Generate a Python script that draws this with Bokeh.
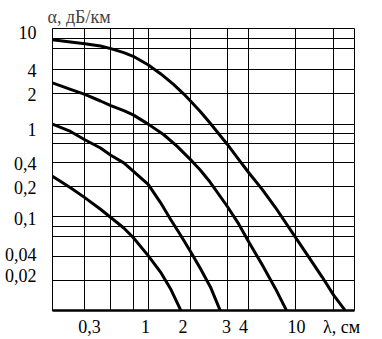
from bokeh.plotting import figure
from bokeh.models import Range1d, FixedTicker, BasicTickFormatter
from bokeh.embed import file_html
from bokeh.resources import INLINE

# ---- data (λ in cm, α in dB/km) ----
c1_x = [0.226, 0.2995, 0.3741, 0.4775, 0.5606, 0.6862, 0.7943, 1.0, 1.215, 1.494, 1.746, 1.937, 2.239,
        2.576, 3.429, 4.108, 4.799, 5.910, 7.268, 9.922, 12.21, 15.03, 18.01, 21.04, 21.6]
c1_y = [9.81, 9.255, 8.90, 8.40, 7.885, 7.157, 6.543, 5.325, 4.281, 3.280, 2.604, 2.198, 1.725,
        1.331, 0.7660, 0.5261, 0.3812, 0.2542, 0.1632, 0.0788, 0.04857, 0.0299, 0.01914, 0.01387, 0.0128]

c2_x = [0.226, 0.2995, 0.3741, 0.4775, 0.5606, 0.6862, 0.7943, 1.003, 1.279, 1.575, 1.937, 2.094, 2.239,
        2.576, 3.429, 4.108, 4.799, 5.910, 7.268, 8.720]
c2_y = [3.425, 2.920, 2.586, 2.198, 1.962, 1.738, 1.566, 1.250, 0.9643, 0.7264, 0.5261, 0.4603, 0.4128,
        0.3162, 0.1684, 0.1088, 0.07037, 0.04030, 0.02252, 0.0128]

c3_x = [0.226, 0.2995, 0.3741, 0.4775, 0.5606, 0.6862, 0.7943, 1.003, 1.215, 1.419, 1.658, 1.937, 2.264,
        2.645, 3.10]
c3_y = [1.250, 1.045, 0.8543, 0.6985, 0.5840, 0.4858, 0.3962, 0.2871, 0.1842, 0.1229, 0.0834, 0.05589, 0.03657,
        0.02335, 0.0128]

c4_x = [0.226, 0.2995, 0.3741, 0.4775, 0.5606, 0.6862, 0.7943, 1.003, 1.215, 1.419, 1.684]
c4_y = [0.3509, 0.2649, 0.2079, 0.1565, 0.1281, 0.0990, 0.0785, 0.05047, 0.03376, 0.02252, 0.0128]

x_grid = [0.3741, 0.5606, 0.7943, 1.0, 1.937, 3.429, 4.799, 10.0, 17.84]
y_grid = [10.0, 7.885, 4.775, 2.650, 1.250, 0.988, 0.7885, 0.4929, 0.2754, 0.1299, 0.1029, 0.0808, 0.04975, 0.02754]

x_tick_vals = [0.4024, 0.9619, 1.724, 3.392, 4.418, 10.08, 20.30]
x_tick_text = ["0,3", "1", "2", "3", "4", "10", "λ, см"]
y_tick_vals = [11.70, 4.606, 2.604, 1.089, 0.4775, 0.2669, 0.1244, 0.05133, 0.03087]
y_tick_text = ["10", "4", "2", "1", "0,4", "0,2", "0,1", "0,04", "0,02"]

x_lim = [0.2263, 24.85]
y_lim = [0.01322, 12.90]

FONT = "Times New Roman"

p = figure(width=382, height=339, x_axis_type="log", y_axis_type="log",
           x_range=Range1d(*x_lim), y_range=Range1d(*y_lim),
           output_backend="svg", toolbar_location=None,
           title="α, дБ/км", min_border_left=52, min_border_right=28,
           min_border_top=28, min_border_bottom=27)

p.title.text_font = FONT
p.title.text_font_size = "18px"
p.title.text_font_style = "normal"
p.title.align = "left"
p.title.offset = -5
p.title.standoff = 3

p.outline_line_color = "black"
p.outline_line_width = 1
p.outline_line_alpha = 1

p.xgrid.ticker = FixedTicker(ticks=x_grid)
p.ygrid.ticker = FixedTicker(ticks=y_grid)
for g in (p.xgrid, p.ygrid):
    g.grid_line_color = "black"
    g.grid_line_alpha = 1
    g.grid_line_width = 1
    g.minor_grid_line_color = None

p.xaxis.ticker = FixedTicker(ticks=x_tick_vals)
p.yaxis.ticker = FixedTicker(ticks=y_tick_vals)
p.xaxis.formatter = BasicTickFormatter()
p.yaxis.formatter = BasicTickFormatter()
p.xaxis.major_label_overrides = dict(zip(x_tick_vals, x_tick_text))
p.yaxis.major_label_overrides = dict(zip(y_tick_vals, y_tick_text))
for ax in (p.xaxis, p.yaxis):
    ax.axis_label = None
    ax.major_tick_line_color = None
    ax.minor_tick_line_color = None
    ax.major_tick_out = 0
    ax.major_tick_in = 0
    ax.minor_tick_out = 0
    ax.minor_tick_in = 0
    ax.major_label_text_font = FONT
    ax.major_label_text_font_size = "18px"
    ax.major_label_text_color = "black"
    ax.axis_label_standoff = 0
p.xaxis.axis_line_color = "black"
p.xaxis.axis_line_width = 2.5
p.yaxis.axis_line_color = "black"
p.yaxis.axis_line_width = 1
p.xaxis.major_label_standoff = 6
p.yaxis.major_label_standoff = 16

for xs, ys in ((c1_x, c1_y), (c2_x, c2_y), (c3_x, c3_y), (c4_x, c4_y)):
    p.line(xs, ys, line_color="black", line_width=3, line_join="round", line_cap="round")

open("out.html", "w").write(file_html(p, INLINE))
